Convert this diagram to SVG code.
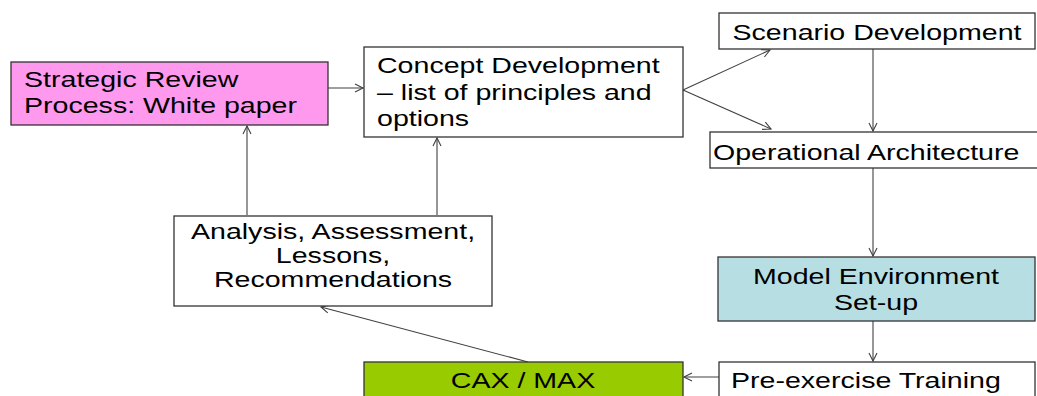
<svg xmlns="http://www.w3.org/2000/svg" width="1037" height="396" viewBox="0 0 1037 396">
<style>
.box{stroke:#333333;stroke-width:1.3}
.w{fill:#ffffff}
.t{font-family:"Liberation Sans",Arial,sans-serif;font-size:22.5px;fill:#000000}
.m{text-anchor:middle}
.c{fill:none;stroke:#404040;stroke-width:1.1}
</style>
<defs>
<marker id="ah" markerUnits="userSpaceOnUse" markerWidth="12" markerHeight="12" refX="9" refY="5" orient="auto">
<path d="M1,1 L9,5 L1,9" fill="none" stroke="#404040" stroke-width="1.1"/>
</marker>
</defs>
<rect width="1037" height="396" fill="#ffffff"/>
<g id="connectors">
<path class="c" d="M328,88 L363,88" marker-end="url(#ah)"/>
<path class="c" d="M683,90 L770,50" marker-end="url(#ah)"/>
<path class="c" d="M683,90 L771,129" marker-end="url(#ah)"/>
<path class="c" d="M873,49 L873,131" marker-end="url(#ah)"/>
<path class="c" d="M873,168 L873,256" marker-end="url(#ah)"/>
<path class="c" d="M873,321 L873,361" marker-end="url(#ah)"/>
<path class="c" d="M719,377 L684,377" marker-end="url(#ah)"/>
<path class="c" d="M528,362 L321,307" marker-end="url(#ah)"/>
<path class="c" d="M247,215 L247,126" marker-end="url(#ah)"/>
<path class="c" d="M437,215 L437,138" marker-end="url(#ah)"/>
</g>
<g id="strategic">
<rect class="box" x="11" y="62" width="317" height="63" fill="#FF99EE"/>
<text class="t" transform="translate(24,87) scale(1.27,1)">Strategic Review</text>
<text class="t" transform="translate(24,113) scale(1.27,1)">Process: White paper</text>
</g>
<g id="concept">
<rect class="box w" x="364" y="47" width="319" height="90"/>
<text class="t" transform="translate(377,73) scale(1.27,1)">Concept Development</text>
<text class="t" transform="translate(377,100) scale(1.27,1)">– list of principles and</text>
<text class="t" transform="translate(377,126) scale(1.27,1)">options</text>
</g>
<g id="scenario">
<rect class="box w" x="719" y="13" width="316" height="36"/>
<text class="t m" transform="translate(877,40) scale(1.27,1)">Scenario Development</text>
</g>
<g id="operational">
<rect class="box w" x="710" y="132" width="335" height="36"/>
<text class="t" transform="translate(713,160) scale(1.27,1)">Operational Architecture</text>
</g>
<g id="model">
<rect class="box" x="718" y="257" width="317" height="64" fill="#B7DEE2"/>
<text class="t m" transform="translate(876,284) scale(1.27,1)">Model Environment</text>
<text class="t m" transform="translate(876,310) scale(1.27,1)">Set-up</text>
</g>
<g id="analysis">
<rect class="box w" x="174" y="216" width="318" height="90"/>
<text class="t m" transform="translate(333,239) scale(1.27,1)">Analysis, Assessment,</text>
<text class="t m" transform="translate(333,263) scale(1.27,1)">Lessons,</text>
<text class="t m" transform="translate(333,287) scale(1.27,1)">Recommendations</text>
</g>
<g id="cax">
<rect class="box" x="364" y="362" width="319" height="50" fill="#99CC00"/>
<text class="t m" transform="translate(523,388) scale(1.27,1)">CAX / MAX</text>
</g>
<g id="preexercise">
<rect class="box w" x="719" y="362" width="316" height="50"/>
<text class="t" transform="translate(731,388) scale(1.27,1)">Pre-exercise Training</text>
</g>
</svg>
